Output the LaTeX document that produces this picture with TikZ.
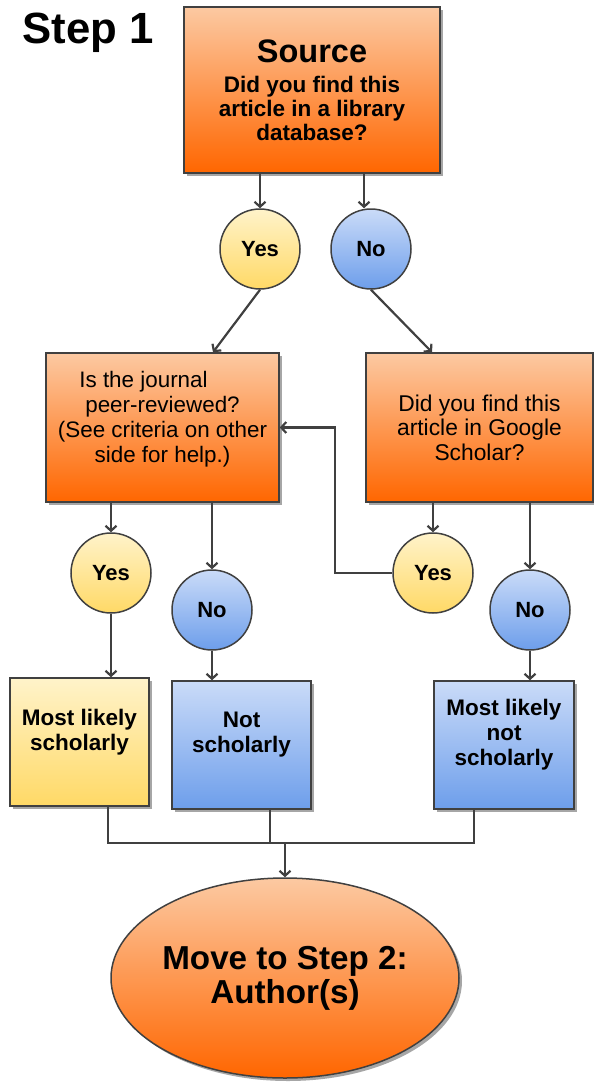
\documentclass[tikz,border=0pt]{standalone}
\usepackage{fontspec}
\setmainfont{Liberation Sans}
\usetikzlibrary{arrows.meta,shadows,shapes.geometric}
\definecolor{linec}{HTML}{404040}
\definecolor{ortop}{HTML}{FCC9A2}
\definecolor{orbot}{HTML}{FF6600}
\definecolor{yetop}{HTML}{FFF3CA}
\definecolor{yebot}{HTML}{FFD966}
\definecolor{bltop}{HTML}{CADBF8}
\definecolor{blbot}{HTML}{6D9EEB}
\begin{document}
\begin{tikzpicture}[x=1pt,y=-1pt,
  shadowed/.style={drop shadow={shadow xshift=3pt,shadow yshift=-3pt,opacity=0.35,fill=black}},
  orbox/.style={rectangle,draw=linec,line width=1.5pt,top color=ortop,bottom color=orbot,shadowed,inner sep=0pt,align=center},
  yebox/.style={rectangle,draw=linec,line width=1.5pt,top color=yetop,bottom color=yebot,shadowed,inner sep=0pt},
  blbox/.style={rectangle,draw=linec,line width=1.5pt,top color=bltop,bottom color=blbot,shadowed,inner sep=0pt},
  yescirc/.style={circle,draw=linec,line width=1.5pt,top color=yetop,bottom color=yebot,minimum size=80pt,inner sep=0pt,font=\fontsize{22}{25}\selectfont\bfseries},
  nocirc/.style={circle,draw=linec,line width=1.5pt,top color=bltop,bottom color=blbot,minimum size=80pt,inner sep=0pt,font=\fontsize{22}{25}\selectfont\bfseries},
  leaftext/.style={align=center,yshift=10pt,font=\fontsize{22.5}{25}\selectfont\bfseries},
  ln/.style={draw=linec,line width=2.2pt},
  arr/.style={ln,-{Straight Barb[length=5pt,width=11pt]}}
]
\useasboundingbox (0,0) rectangle (594,1084);

\node[anchor=base west,font=\fontsize{43.7}{46}\selectfont\bfseries] (step) at (19,43) {Step 1};

\node[orbox,minimum width=256pt,minimum height=166pt,font=\fontsize{22.5}{24}\selectfont\bfseries] (src) at (312,90)
  {{\fontsize{32.5}{32}\selectfont Source}\\[6pt]Did you find this\\article in a library\\database?};

\node[yescirc] (yes1) at (260,249) {Yes};
\node[nocirc] (no1) at (371,249) {No};

\node[orbox,minimum width=233pt,minimum height=149pt] (peer) at (162.5,427.5) {};
\node[align=center,font=\fontsize{22.4}{25}\selectfont] (peertxt) at (162.5,419)
  {Is the journal\hspace*{38pt}\\peer-reviewed?\\(See criteria on other\\side for help.)};

\node[orbox,minimum width=227pt,minimum height=149pt,font=\fontsize{22.8}{24.5}\selectfont] (ggl) at (479.5,427.5)
  {Did you find this\\article in Google\\Scholar?};

\node[yescirc] (yes2) at (111,573) {Yes};
\node[nocirc] (no2) at (212,610) {No};
\node[yescirc] (yes3) at (433,573) {Yes};
\node[nocirc] (no3) at (530,610) {No};

\node[yebox,minimum width=139pt,minimum height=128pt,label={[leaftext,name=l1t]center:Most likely\\scholarly}] (leaf1) at (79.5,742) {};
\node[blbox,minimum width=139pt,minimum height=128pt,label={[leaftext,name=l2t]center:Not\\scholarly}] (leaf2) at (241.5,745) {};
\node[blbox,minimum width=140pt,minimum height=128pt,label={[leaftext,name=l3t]center:Most likely\\not\\scholarly}] (leaf3) at (504,745) {};

\node[ellipse,draw=linec,line width=1.5pt,top color=ortop,bottom color=orbot,shadowed,minimum width=348pt,minimum height=200pt,inner sep=0pt,align=center,font=\fontsize{33.2}{34}\selectfont\bfseries] (end) at (285,978)
  {Move to Step 2:\\Author(s)};

\coordinate (j) at (285,843);

% connectors
\draw[arr] (yes1 |- src.south) -- (yes1);
\draw[arr] ([xshift=-7pt]no1 |- src.south) -- ([xshift=-7pt]no1.north);
\draw[arr] (yes1.south) -- ([xshift=50.5pt]peer.north);
\draw[arr] (no1.south) -- ([xshift=-47.5pt]ggl.north);
\draw[arr] (yes2 |- peer.south) -- (yes2);
\draw[arr] (no2 |- peer.south) -- (no2);
\draw[arr] (yes3 |- ggl.south) -- (yes3);
\draw[arr] (no3 |- ggl.south) -- (no3);
\draw[arr] (yes3.west) -- ++(-57pt,0pt) |- (peer.east);
\draw[arr] (yes2) -- (yes2 |- leaf1.north);
\draw[arr] (no2) -- (no2 |- leaf2.north);
\draw[arr] (no3) -- (no3 |- leaf3.north);
\draw[ln] ([xshift=28.5pt]leaf1.south) |- (j);
\draw[ln] ([xshift=28.5pt]leaf2.south) |- (j);
\draw[ln] ([xshift=-30pt]leaf3.south) |- (j);
\draw[arr] (j) -- (end);
\end{tikzpicture}
\end{document}
